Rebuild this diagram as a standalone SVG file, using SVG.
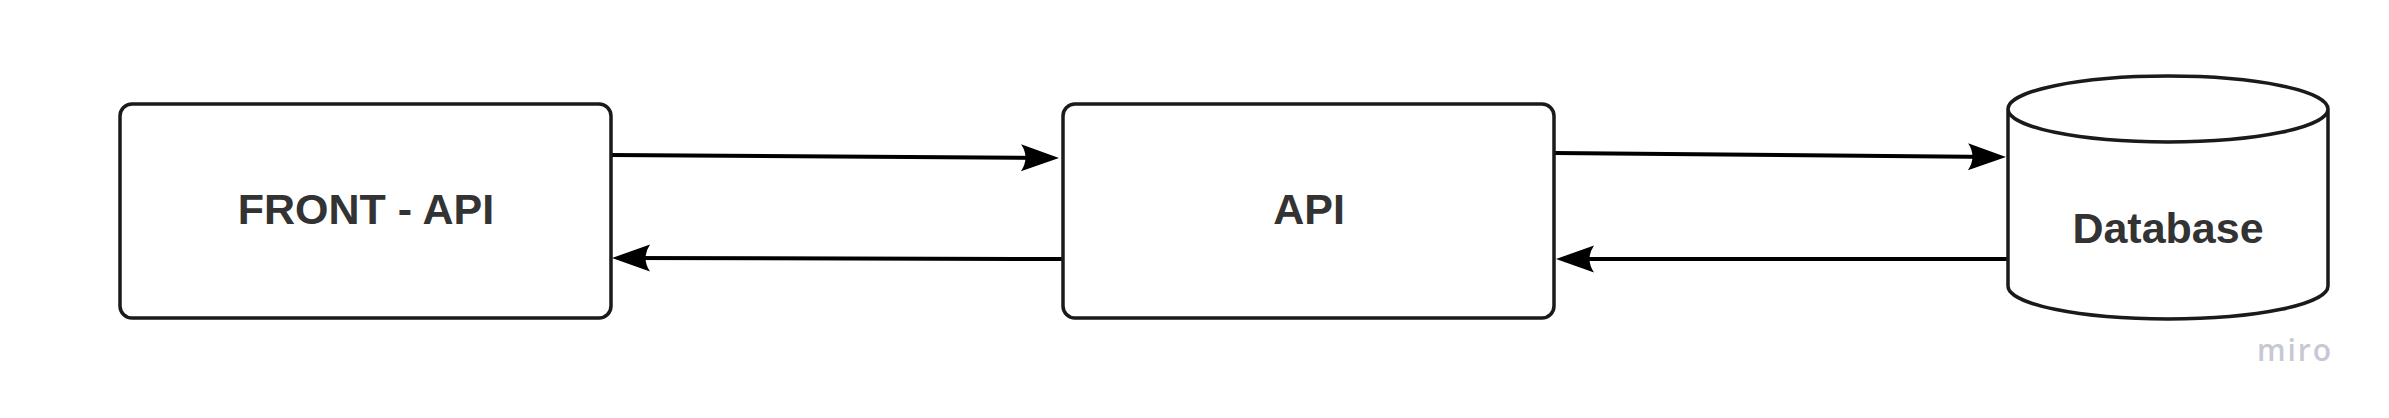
<svg xmlns="http://www.w3.org/2000/svg" width="2389" height="418" viewBox="0 0 2389 418">
<style>
.box{fill:#fff;stroke:#1a1a1a;stroke-width:3.5}
.lbl{font-family:"Liberation Sans",Arial,sans-serif;font-weight:bold;font-size:43px;fill:#333;text-anchor:middle}
.conn{fill:none;stroke:#000;stroke-width:4}
</style>
<defs>
<marker id="ah" markerUnits="userSpaceOnUse" markerWidth="40" markerHeight="28" refX="28" refY="13.5" orient="auto" overflow="visible">
<path d="M0,0 L38,13.5 L0,27 Q9,13.5 0,0 Z" fill="#000"/>
</marker>
</defs>
<rect width="2389" height="418" fill="#fff"/>
<g id="connectors">
<path class="conn" d="M611,155 L1049,158" marker-end="url(#ah)"/>
<path class="conn" d="M1063,259 L622,258" marker-end="url(#ah)"/>
<path class="conn" d="M1555,153 L1996,157" marker-end="url(#ah)"/>
<path class="conn" d="M2008,259 L1566,259" marker-end="url(#ah)"/>
</g>
<g id="front-api">
<rect class="box" x="120" y="104" width="491" height="214" rx="12"/>
<text class="lbl" x="366" y="224">FRONT - API</text>
</g>
<g id="api">
<rect class="box" x="1063" y="104" width="491" height="214" rx="12"/>
<text class="lbl" x="1309" y="224">API</text>
</g>
<g id="database">
<path class="box" d="M2008,109 L2008,286 A160,33 0 0 0 2328,286 L2328,109 A160,33 0 0 0 2008,109 A160,33 0 0 0 2328,109"/>
<text class="lbl" x="2168" y="243">Database</text>
</g>
<text x="2295" y="361" font-family="'Open Sans',sans-serif" font-weight="600" font-size="30" letter-spacing="2" fill="#c6c8d4" text-anchor="middle">miro</text>
</svg>
